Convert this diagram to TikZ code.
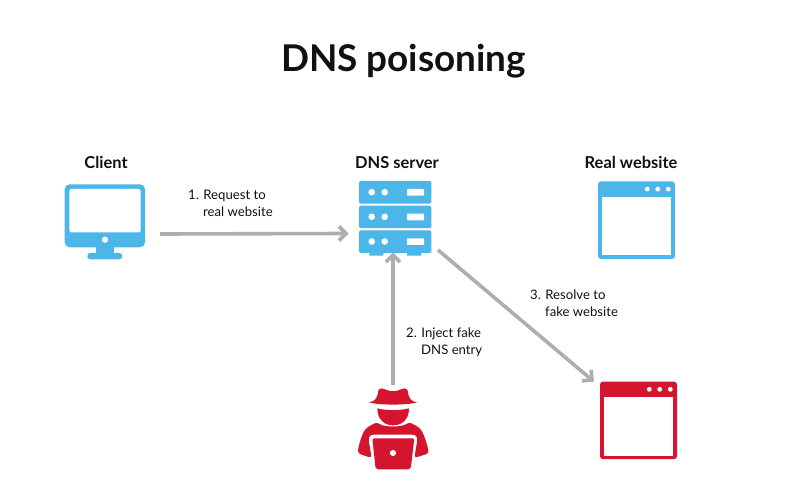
\documentclass[tikz,border=0pt]{standalone}
\usepackage{fontspec}
\setmainfont{Lato}
\usetikzlibrary{calc}
\definecolor{skyblue}{HTML}{4DB6E9}
\definecolor{alertred}{HTML}{D5152D}
\definecolor{linkgray}{HTML}{AEAEAE}
\definecolor{inkblack}{HTML}{111111}
\tikzset{
  x=1bp,y=-1bp,
  heading/.style={font=\fontsize{37}{40}\selectfont\bfseries,text=inkblack,inner sep=0pt},
  rolelabel/.style={font=\fontsize{16.5}{20}\selectfont\bfseries,text=inkblack,inner sep=0pt},
  steplabel/.style={font=\fontsize{13.2}{17}\selectfont,text=inkblack,inner sep=0pt,align=left,anchor=north west},
  iconspot/.style={inner sep=0pt,outer sep=0pt,minimum width=#1,minimum height=#1},
  link/.style={draw=linkgray,line width=3.6bp},
  chevron/.style={draw=linkgray,line width=3.6bp,line join=miter},
}
% A gray arrow with an open chevron head: start, tip
\newcommand{\linkarrow}[2]{%
  \draw[link] (#1) -- (#2);
  \draw[chevron] ($(#2)!10bp!-45:(#1)$) -- (#2) -- ($(#2)!10bp!45:(#1)$);
}
% A browser window icon: west edge, north edge, colour
\newcommand{\windowicon}[3]{%
  \begin{scope}[shift={(#1,#2)}]
    \fill[#3,rounded corners=3bp] (0,0) rectangle (77,77.6);
    \fill[white] (3.8,15.6) rectangle (73.4,74);
    \foreach \dx in {49.3,59.7,70.3}{\fill[white] (\dx,7.7) circle (2.4bp);}
  \end{scope}
}
% One unit of the server rack: north edge
\newcommand{\rackunit}[1]{%
  \fill[skyblue,rounded corners=1.5bp] (359,#1) rectangle (431.3,#1+22.6);
  \fill[white] (371.7,#1+11.2) circle (3.3bp) (384.7,#1+11.2) circle (3.3bp);
  \fill[white,rounded corners=0.8bp] (407,#1+8) rectangle (424,#1+14.7);
}
\begin{document}
\begin{tikzpicture}
\useasboundingbox (0,0) rectangle (791,500);
\fill[white] (0,0) rectangle (791,500);

\node[heading] (title) at (403.5,61) {DNS poisoning};
\node[rolelabel] (clientname) at (106,162.5) {Client};
\node[rolelabel] (dnsname) at (397,162.5) {DNS server};
\node[rolelabel] (realname) at (631,162.5) {Real website};

% Desktop computer
\fill[skyblue,rounded corners=5bp] (64.7,184.3) rectangle (145,247.3);
\fill[white,rounded corners=1.5bp] (69.3,189) rectangle (140.7,232.3);
\fill[white] (105,239.7) circle (3.1bp);
\fill[skyblue] (95.7,247) rectangle (114.3,254);
\fill[skyblue,rounded corners=3bp] (87.3,253) rectangle (122.3,259.3);

% Server rack
\fill[skyblue] (369.3,250) rectangle (383.3,255.7) (407,250) rectangle (421,255.7);
\rackunit{181}
\rackunit{205.6}
\rackunit{230.3}

% Browser windows
\windowicon{598}{181.4}{skyblue}
\windowicon{600}{381.6}{alertred}

% Hacker in a hat behind a laptop
\begin{scope}[shift={(345,370)},x=0.3333bp,y=-0.3333bp]
  \fill[alertred] (72,97) .. controls (88,94) and (96,90) .. (100,62)
    .. controls (104,52) and (114,55) .. (125,60)
    .. controls (138,65) and (150,65) .. (163,60)
    .. controls (174,55) and (184,52) .. (188,62)
    .. controls (192,90) and (200,94) .. (216,97)
    .. controls (190,106) and (98,106) .. (72,97) -- cycle;
  \fill[alertred] (97,115) .. controls (120,122) and (168,122) .. (192,115)
    .. controls (192,148) and (172,166) .. (144,166)
    .. controls (118,166) and (97,148) .. (97,115) -- cycle;
  \fill[alertred,rounded corners=3bp] (97,156) .. controls (115,172) and (172,172) .. (192,156)
    -- (222,172) .. controls (236,190) and (246,220) .. (252,250)
    -- (208,264) -- (218,205) -- (212,194) -- (76,194) -- (70,205) -- (80,264)
    -- (38,250) .. controls (42,220) and (52,190) .. (66,172) -- cycle;
  \fill[alertred,rounded corners=2bp] (82,205) -- (208,205) -- (197,298) -- (92,298) -- cycle;
  \fill[white] (144,249) circle (3.1bp);
\end{scope}

% Invisible anchors around the icons, used by the connectors
\node[iconspot=1bp] (client) at (145,234) {};
\node[iconspot=1bp] (dns) at (395,218) {};
\node[iconspot=1bp] (real) at (637,220) {};
\node[iconspot=1bp] (hacker) at (393,420) {};
\node[iconspot=1bp] (fake) at (638,420) {};

\coordinate (inA) at ($(dns)+(-49,15.5)$);
\coordinate (inB) at ($(dns)+(-2,37)$);
\coordinate (outC) at ($(dns)+(43,32)$);
\coordinate (outA) at ($(client)+(15,0)$);
\coordinate (outB) at ($(hacker)+(0,-35)$);
\coordinate (inC) at ($(fake)+(-46,-40)$);

\linkarrow{outA}{inA}
\linkarrow{outB}{inB}
\linkarrow{outC}{inC}

\node[steplabel] (stepone) at (188,190) {1. Request to\\\hspace*{15bp}real website};
\node[steplabel] (steptwo) at (406,328) {2. Inject fake\\\hspace*{15bp}DNS entry};
\node[steplabel] (stepthree) at (530,290) {3. Resolve to\\\hspace*{15bp}fake website};
\end{tikzpicture}
\end{document}
